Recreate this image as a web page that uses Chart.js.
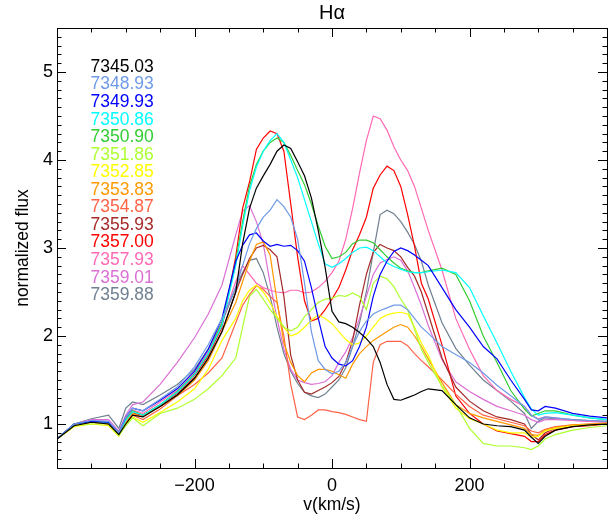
<!DOCTYPE html>
<html>
<head>
<meta charset="utf-8">
<title>H-alpha profiles</title>
<script src="https://cdn.jsdelivr.net/npm/chart.js@4.4.1/dist/chart.umd.min.js"></script>
<style>
  html, body { margin: 0; padding: 0; background: #fff; }
  canvas { display: block; }
</style>
</head>
<body>
<canvas id="halphaChart" width="615" height="519"></canvas>
<script>
// velocity grid (km/s) shared by all spectra
const velocity = [-400,-375,-350,-325,-310,-300,-290,-275,-250,-225,-200,-180,-160,-140,
  -130,-120,-110,-100,-90,-80,-70,-60,-50,-40,-30,-20,-10,0,10,20,30,40,50,60,70,80,90,100,110,120,130,
  140,160,180,200,220,240,260,280,290,300,310,325,350,375,400];

// normalized flux for each observing date (JD - 2450000)
const flux734503 = [0.83,0.98,1.02,1.0,0.88,1.0,1.1,1.08,1.2,1.33,1.52,1.75,2.05,2.5,
  3.05,3.45,3.68,3.82,3.95,4.1,4.17,4.13,3.98,3.82,3.57,3.2,2.78,2.28,2.16,2.14,2.1,2.04,1.97,1.88,1.7,1.45,1.28,1.27,1.3,1.33,1.37,
  1.4,1.38,1.22,1.07,1.0,0.98,0.97,0.93,0.85,0.78,0.86,0.93,0.97,0.99,1.0];
const flux734893 = [0.83,1.0,1.04,1.03,0.9,1.08,1.18,1.15,1.28,1.42,1.65,1.9,2.2,2.55,
  2.8,3.05,3.22,3.35,3.43,3.55,3.47,3.35,3.1,2.6,2.05,1.72,1.62,1.57,1.6,1.7,1.88,2.05,2.17,2.25,2.29,2.32,2.35,2.35,2.3,2.2,2.1,
  2.03,1.88,1.79,1.7,1.58,1.44,1.32,1.2,1.1,1.05,1.08,1.07,1.05,1.04,1.03];
const flux734993 = [0.83,1.0,1.03,1.02,0.9,1.08,1.18,1.15,1.27,1.4,1.6,1.85,2.2,2.85,
  3.03,3.15,3.17,3.08,3.02,3.04,3.02,3.03,2.97,2.85,2.55,2.2,1.88,1.75,1.68,1.66,1.72,1.88,2.1,2.45,2.7,2.85,2.96,3.0,2.97,2.92,2.86,
  2.8,2.55,2.3,2.1,1.88,1.74,1.5,1.28,1.16,1.15,1.2,1.18,1.12,1.09,1.07];
const flux735086 = [0.83,1.0,1.03,1.02,0.9,1.04,1.14,1.1,1.22,1.36,1.56,1.8,2.12,2.8,
  3.25,3.65,3.92,4.1,4.22,4.3,4.2,4.0,3.8,3.55,3.3,3.05,2.82,2.78,2.82,2.88,2.95,3.0,3.01,2.97,2.9,2.83,2.79,2.76,2.73,2.72,2.72,
  2.73,2.75,2.72,2.55,2.23,1.92,1.6,1.3,1.17,1.1,1.12,1.13,1.1,1.07,1.05];
const flux735090 = [0.83,1.0,1.03,1.02,0.9,1.05,1.15,1.1,1.22,1.37,1.57,1.8,2.15,2.85,
  3.3,3.7,3.95,4.1,4.2,4.25,4.2,4.05,3.88,3.72,3.5,3.25,3.02,2.88,2.9,2.95,3.05,3.09,3.09,3.06,2.98,2.9,2.83,2.77,2.74,2.72,2.72,
  2.74,2.77,2.7,2.4,2.0,1.7,1.38,1.17,1.09,1.12,1.15,1.15,1.1,1.07,1.05];
const flux735186 = [0.83,0.98,1.0,1.0,0.87,0.98,1.07,0.98,1.12,1.18,1.28,1.4,1.55,1.75,
  2.1,2.45,2.53,2.42,2.3,2.2,2.1,2.06,2.1,2.22,2.3,2.38,2.42,2.43,2.46,2.45,2.49,2.45,2.3,2.6,2.68,2.65,2.56,2.42,2.3,2.08,1.85,
  1.7,1.43,1.22,0.95,0.78,0.75,0.75,0.73,0.71,0.75,0.83,0.88,0.93,0.96,0.98];
const flux735285 = [0.83,0.97,1.0,0.98,0.86,1.0,1.08,1.02,1.13,1.25,1.4,1.62,1.95,2.2,
  2.4,2.52,2.58,2.5,2.38,2.22,2.1,2.0,2.03,2.1,2.18,2.24,2.2,2.14,2.05,1.96,1.9,1.92,2.0,2.1,2.2,2.24,2.26,2.27,2.25,2.1,1.92,
  1.78,1.42,1.18,1.06,1.0,0.93,0.9,0.9,0.85,0.86,0.92,0.95,0.98,0.99,1.0];
const flux735383 = [0.83,0.98,1.02,1.0,0.88,1.02,1.12,1.08,1.2,1.32,1.5,1.72,2.05,2.38,
  2.62,2.85,3.04,3.07,2.92,2.4,1.92,1.7,1.55,1.48,1.58,1.62,1.62,1.6,1.56,1.52,1.68,1.8,1.88,1.95,2.0,2.05,2.1,2.13,2.1,2.0,1.88,
  1.74,1.47,1.22,1.12,1.07,1.03,0.99,0.95,0.88,0.87,0.93,0.96,0.99,1.0,1.01];
const flux735487 = [0.83,0.98,1.02,1.0,0.88,1.02,1.1,1.05,1.17,1.32,1.45,1.58,1.75,2.15,
  2.35,2.47,2.57,2.53,2.45,2.38,2.0,1.45,1.08,1.05,1.1,1.16,1.16,1.14,1.13,1.11,1.08,1.05,1.03,1.7,1.9,1.94,1.94,1.94,1.89,1.8,1.72,
  1.65,1.5,1.34,1.2,1.1,1.06,1.02,0.98,0.92,0.9,0.94,0.97,0.99,1.0,1.0];
const flux735593 = [0.83,1.0,1.03,1.02,0.9,1.04,1.14,1.1,1.2,1.33,1.52,1.73,2.05,2.5,
  2.7,2.88,3.0,3.03,2.98,2.9,2.45,1.78,1.5,1.36,1.34,1.38,1.42,1.47,1.54,1.7,1.95,2.35,2.7,2.95,3.04,3.0,2.97,2.9,2.78,2.68,2.5,
  2.25,1.75,1.42,1.26,1.15,1.08,1.05,1.0,0.88,0.82,0.9,0.95,0.98,0.99,1.0];
const flux735700 = [0.83,1.0,1.02,1.0,0.88,1.0,1.12,1.1,1.22,1.35,1.55,1.78,2.1,2.9,
  3.45,3.75,4.12,4.25,4.33,4.3,4.1,3.5,2.9,2.4,2.17,2.2,2.3,2.42,2.55,2.75,2.98,3.15,3.35,3.68,3.83,3.93,3.88,3.7,3.38,3.02,2.6,
  2.42,1.9,1.32,1.12,1.0,0.92,0.89,0.86,0.8,0.8,0.88,0.93,0.97,0.98,1.0];
const flux735793 = [0.83,1.0,1.04,1.03,0.9,1.06,1.16,1.12,1.25,1.38,1.58,1.82,2.15,2.62,
  2.8,2.7,2.6,2.55,2.52,2.5,2.49,2.52,2.52,2.49,2.5,2.55,2.62,2.72,2.85,3.1,3.45,3.85,4.22,4.5,4.47,4.34,4.15,4.0,3.88,3.7,3.45,
  3.2,2.75,2.2,1.85,1.55,1.38,1.28,1.2,1.1,1.06,1.08,1.07,1.04,1.03,1.02];
const flux735901 = [0.83,1.0,1.05,1.05,0.92,1.1,1.22,1.25,1.45,1.7,1.98,2.25,2.58,3.15,
  3.42,3.48,3.3,3.05,2.6,2.2,1.85,1.62,1.5,1.47,1.45,1.46,1.48,1.55,1.7,1.82,1.98,2.2,2.45,2.7,2.83,2.87,2.9,2.86,2.74,2.55,2.35,
  2.12,1.73,1.48,1.37,1.28,1.2,1.15,1.1,1.05,1.02,1.05,1.05,1.04,1.03,1.02];
const flux735988 = [0.83,1.0,1.06,1.1,0.95,1.18,1.25,1.22,1.33,1.45,1.62,1.85,2.15,2.55,
  2.72,2.86,2.88,2.72,2.45,2.1,1.8,1.6,1.46,1.36,1.32,1.3,1.34,1.42,1.5,1.64,1.88,2.15,2.5,2.95,3.38,3.43,3.39,3.3,3.18,3.04,2.85,
  2.58,2.15,1.86,1.67,1.5,1.38,1.26,1.12,0.95,1.03,1.07,1.06,1.05,1.04,1.03];

const dateLabels = ['7345.03','7348.93','7349.93','7350.86','7350.90','7351.86','7352.85',
  '7353.83','7354.87','7355.93','7357.00','7357.93','7359.01','7359.88'];
const fluxSeries = [flux734503, flux734893, flux734993, flux735086, flux735090, flux735186, flux735285,
  flux735383, flux735487, flux735593, flux735700, flux735793, flux735901, flux735988];
const lineColors = ['#000000','#6f9ae8','#0000ff','#00ffff','#33cc33','#adff2f','#ffff00',
  '#ff9900','#ff6347','#a52a2a','#ff0000','#ff69b4','#da70d6','#708090'];

// labelled tick values on each axis
const xTickValues = [-200, 0, 200];
const yTickValues = [1, 2, 3, 4, 5];

const FONT = '"Liberation Sans", Arial, Helvetica, sans-serif';

const datasets = dateLabels.map((label, i) => ({
    label: label,
    data: velocity.map((v, j) => ({x: v, y: fluxSeries[i][j]})),
    borderColor: lineColors[i],
    backgroundColor: lineColors[i],
    borderWidth: 1.2,
    pointRadius: 0,
    tension: 0,
    fill: false
}));

// IDL-like frame: box with inward ticks on all four sides, title and colored date list
const frameAndTicks = {
    id: 'frameAndTicks',
    afterDatasetsDraw(chart) {
        const {ctx, chartArea: a, scales: {x, y}} = chart;
        ctx.save();
        ctx.strokeStyle = '#000';
        ctx.lineWidth = 1;
        ctx.strokeRect(Math.round(a.left) + 0.5, Math.round(a.top) + 0.5,
            Math.round(a.right - a.left), Math.round(a.bottom - a.top));
        ctx.beginPath();
        for (let v = -400; v <= 400; v += 50) {
            const px = Math.round(x.getPixelForValue(v)) + 0.5;
            const len = v % 200 === 0 ? 9 : 4.5;
            ctx.moveTo(px, a.bottom); ctx.lineTo(px, a.bottom - len);
            ctx.moveTo(px, a.top); ctx.lineTo(px, a.top + len);
        }
        for (let i = 5; i <= 55; i++) {
            const py = Math.round(y.getPixelForValue(i / 10)) + 0.5;
            const len = i % 10 === 0 ? 9 : 4.5;
            ctx.moveTo(a.left, py); ctx.lineTo(a.left + len, py);
            ctx.moveTo(a.right, py); ctx.lineTo(a.right - len, py);
        }
        ctx.stroke();

        ctx.fillStyle = '#000';
        ctx.font = '20px ' + FONT;
        ctx.textAlign = 'center';
        ctx.textBaseline = 'middle';
        ctx.fillText('H\u03b1', (a.left + a.right) / 2, 13);

        ctx.font = '17.5px ' + FONT;
        ctx.textAlign = 'left';
        dateLabels.forEach((label, i) => {
            ctx.fillStyle = lineColors[i];
            ctx.fillText(label, a.left + 33.5, a.top + 39 + i * 17.56);
        });
        ctx.restore();
    }
};

const ctx = document.getElementById('halphaChart').getContext('2d');
new Chart(ctx, {
    type: 'line',
    data: { datasets: datasets },
    options: {
        responsive: false,
        animation: false,
        layout: { padding: { top: 28, right: 8, left: 0, bottom: 0 } },
        plugins: {
            legend: { display: false },
            tooltip: { enabled: false },
            title: { display: false }
        },
        scales: {
            x: {
                type: 'linear',
                min: -400,
                max: 400,
                grid: { display: false, drawTicks: false },
                border: { display: false },
                afterBuildTicks: scale => { scale.ticks = xTickValues.map(v => ({value: v})); },
                ticks: {
                    autoSkip: false,
                    maxRotation: 0,
                    padding: 7,
                    color: '#000',
                    font: { family: FONT, size: 18 },
                    callback: v => (v < 0 ? '\u2212' + Math.abs(v) : String(v))
                },
                title: {
                    display: true,
                    text: 'v(km/s)',
                    color: '#000',
                    font: { family: FONT, size: 17.5 },
                    padding: { top: 0, bottom: 3 }
                },
                afterFit: scale => { scale.height = 51; }
            },
            y: {
                type: 'linear',
                min: 0.5,
                max: 5.5,
                grid: { display: false, drawTicks: false },
                border: { display: false },
                afterBuildTicks: scale => { scale.ticks = yTickValues.map(v => ({value: v})); },
                ticks: {
                    padding: 4,
                    color: '#000',
                    font: { family: FONT, size: 18 },
                    callback: v => String(v)
                },
                title: {
                    display: true,
                    text: 'normalized flux',
                    color: '#000',
                    font: { family: FONT, size: 17.5 },
                    padding: { top: 13, bottom: 0 }
                },
                afterFit: scale => { scale.width = 57; }
            }
        }
    },
    plugins: [frameAndTicks]
});
</script>
</body>
</html>
